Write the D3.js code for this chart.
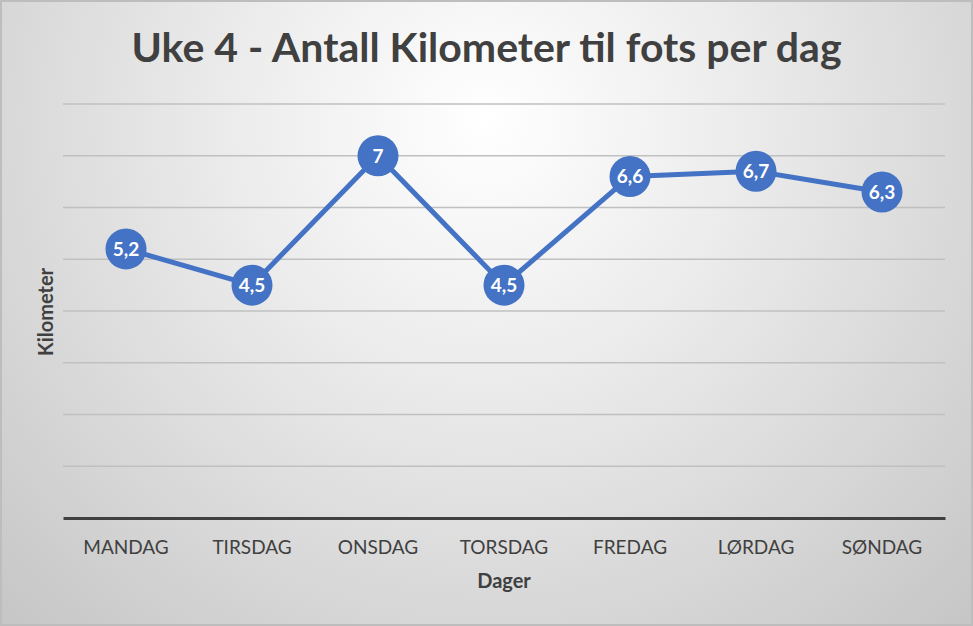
<!DOCTYPE html>
<html><head><meta charset="utf-8">
<script src="https://cdn.jsdelivr.net/npm/d3@7"></script>
<style>body{margin:0;overflow:hidden}svg{display:block}</style>
</head><body>
<script>
const categories = ["MANDAG","TIRSDAG","ONSDAG","TORSDAG","FREDAG","LØRDAG","SØNDAG"];
const values = [5.2,4.5,7,4.5,6.6,6.7,6.3];
const labels = ["5,2","4,5","7","4,5","6,6","6,7","6,3"];
const yTicks = [0,1,2,3,4,5,6,7,8];
const title = "Uke 4 - Antall Kilometer til fots per dag";

const W=973,H=626;
const svg=d3.select("body").append("svg").attr("width",W).attr("height",H);
const defs=svg.append("defs");
const g=defs.append("radialGradient").attr("id","bg").attr("gradientUnits","userSpaceOnUse")
 .attr("cx",486).attr("cy",120).attr("r",720);
g.append("stop").attr("offset","0").attr("stop-color","#ffffff");
g.append("stop").attr("offset","0.35").attr("stop-color","#ececec");
g.append("stop").attr("offset","1").attr("stop-color","#c4c4c4");
svg.append("rect").attr("width",W).attr("height",H).attr("fill","url(#bg)");
svg.append("rect").attr("x",1).attr("y",1).attr("width",W-2).attr("height",H-2).attr("fill","none").attr("stroke","#bdbdbd").attr("stroke-width",2);

const font="Lato, 'Open Sans', sans-serif";
const x=d3.scaleBand().domain(categories).range([63,945]);
const y=d3.scaleLinear().domain([0,8]).range([518,104]);

svg.append("g").selectAll("line").data(yTicks.filter(d=>d>0)).join("line")
 .attr("x1",63).attr("x2",945).attr("y1",d=>y(d)).attr("y2",d=>y(d))
 .attr("stroke","#c0c0c0").attr("stroke-width",1.5);

const xa=svg.append("g").attr("transform","translate(0,518)").call(d3.axisBottom(x).tickSize(0).tickPadding(0));
xa.select(".domain").attr("stroke","#404040").attr("stroke-width",3);
xa.selectAll("text").attr("font-family",font).attr("font-size",19).attr("fill","#404040")
 .attr("dy",null).attr("y",36);

svg.append("text").attr("x",486.5).attr("y",62).attr("text-anchor","middle").attr("font-family",font)
 .attr("font-weight","bold").attr("font-size",41).attr("fill","#404040").text(title);
svg.append("text").attr("x",504).attr("y",588).attr("text-anchor","middle").attr("font-family",font)
 .attr("font-weight","bold").attr("font-size",20).attr("fill","#404040").text("Dager");
svg.append("text").attr("transform","translate(53,312) rotate(-90)").attr("text-anchor","middle").attr("font-family",font)
 .attr("font-weight","bold").attr("font-size",20).attr("fill","#404040").text("Kilometer");

const cx=(d,i)=>x(categories[i])+x.bandwidth()/2;
const line=d3.line().x((d,i)=>x(categories[i])+x.bandwidth()/2).y(d=>y(d));
svg.append("path").datum(values).attr("d",line).attr("fill","none").attr("stroke","#4472C4").attr("stroke-width",5).attr("stroke-linejoin","round");
svg.append("g").selectAll("circle").data(values).join("circle")
 .attr("cx",cx).attr("cy",d=>y(d)).attr("r",20.5).attr("fill","#4472C4");
svg.append("g").selectAll("text").data(values).join("text")
 .attr("x",cx).attr("y",d=>y(d)).attr("dy","0.36em").attr("text-anchor","middle")
 .attr("font-family",font).attr("font-weight","bold").attr("font-size",19).attr("fill","#fff")
 .text((d,i)=>labels[i]);
</script>
</body></html>
